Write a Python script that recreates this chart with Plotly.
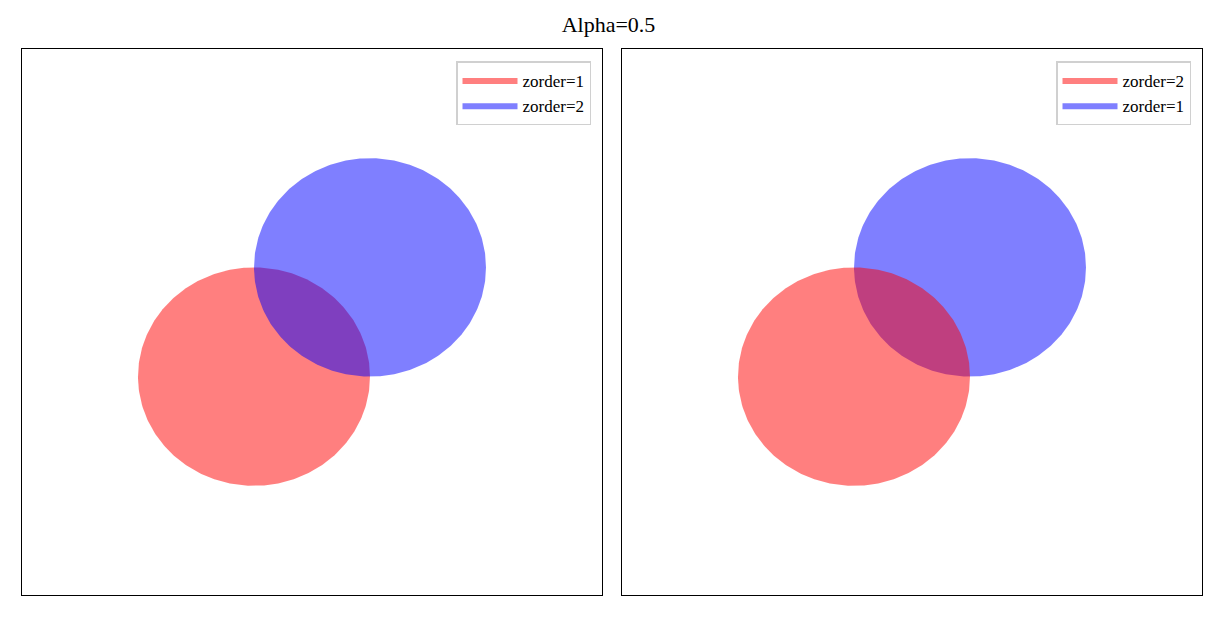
import numpy as np
import plotly.graph_objects as go

# Data
circle_names = ["red", "blue"]
centers_x = [0.0, 1.0]
centers_y = [0.0, 1.0]
radii = [1.0, 1.0]
colors = ["rgba(255,0,0,0.5)", "rgba(0,0,255,0.5)"]
# zorder per subplot: left (red=1, blue=2), right (red=2, blue=1)
zorders = [[1, 2], [2, 1]]
axis_range = [-2, 3]
title_text = "Alpha=0.5"

FONT = "Liberation Serif"

fig = go.Figure()
theta = np.linspace(0, 2 * np.pi, 361)

for p, zs in enumerate(zorders):
    xa = "x" if p == 0 else "x2"
    ya = "y" if p == 0 else "y2"
    leg = "legend" if p == 0 else "legend2"
    order = sorted(range(len(circle_names)), key=lambda i: zs[i])
    for i in order:
        fig.add_trace(go.Scatter(
            x=centers_x[i] + radii[i] * np.cos(theta),
            y=centers_y[i] + radii[i] * np.sin(theta),
            mode="lines", fill="toself", fillcolor=colors[i],
            line=dict(width=0, color=colors[i]),
            name=f"zorder={zs[i]}", legend=leg, legendrank=i + 1,
            xaxis=xa, yaxis=ya, hoverinfo="skip",
        ))

W, H = 1217, 617
ax_style = dict(range=axis_range, showticklabels=False, ticks="", showgrid=False,
                zeroline=False, showline=True, mirror=True, linecolor="black",
                linewidth=1.3, fixedrange=True)
y_dom = [1 - 595 / H, 1 - 49 / H]
legend_style = dict(bgcolor="white", bordercolor="#d0d0d0", borderwidth=1.5,
                    font=dict(family=FONT, size=17, color="black"),
                    xanchor="right", yanchor="top", tracegroupgap=0,
                    itemwidth=55)

fig.update_layout(
    width=W, height=H, autosize=False,
    margin=dict(l=0, r=0, t=0, b=0),
    plot_bgcolor="white", paper_bgcolor="white",
    xaxis=dict(domain=[22 / W, 602 / W], anchor="y", **ax_style),
    yaxis=dict(domain=y_dom, anchor="x", **ax_style),
    xaxis2=dict(domain=[622 / W, 1202 / W], anchor="y2", **ax_style),
    yaxis2=dict(domain=y_dom, anchor="x2", **ax_style),
    legend=dict(x=591 / W, y=1 - 61 / H, **legend_style),
    legend2=dict(x=1191 / W, y=1 - 61 / H, **legend_style),
    title=dict(text=title_text, x=0.5, xanchor="center", y=1 - 24 / H,
               yanchor="middle", font=dict(family=FONT, size=22, color="black")),
    showlegend=True,
)

fig.write_html("out.html", config={"displayModeBar": False},
               post_script="document.body.style.margin='0';")
